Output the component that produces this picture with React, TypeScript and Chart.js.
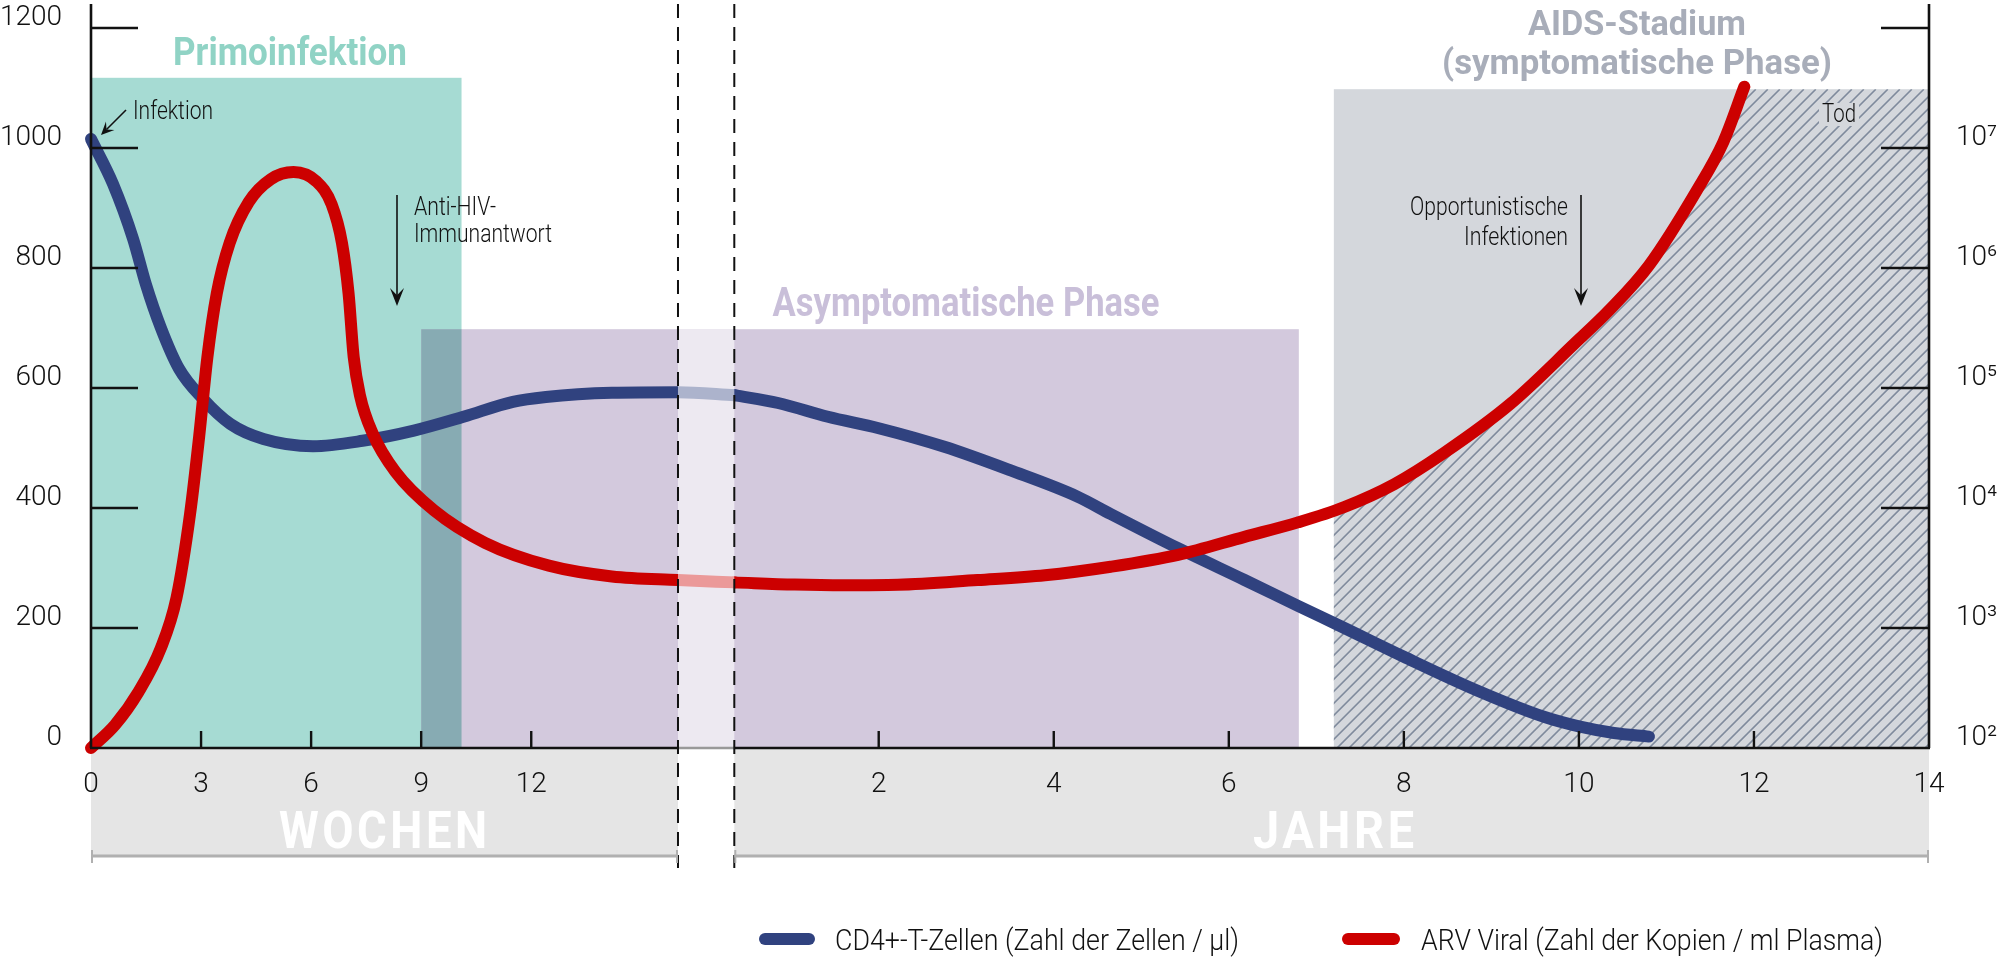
import React, { useEffect, useRef } from 'react';
import { Chart, registerables } from 'chart.js';

Chart.register(...registerables);

// ---------- data ----------
const WEEK_TICKS = [0, 3, 6, 9, 12];
const YEAR_TICKS = [2, 4, 6, 8, 10, 12, 14];
const CD4_TICKS = [0, 200, 400, 600, 800, 1000, 1200];
const VIRAL_TICKS = [1e2, 1e3, 1e4, 1e5, 1e6, 1e7, 1e8];
const VIRAL_TICK_LABELS = ['10²', '10³', '10⁴', '10⁵', '10⁶', '10⁷', ''];

const CD4_WEEKS = [0, 0.6, 1.15, 1.5, 1.9, 2.4, 3.05, 3.8, 4.7, 6.05, 7.4, 8.8, 10.15, 11.5, 12.4, 14.2, 16, 17.55];
const CD4_WEEK_VALUES = [1015, 940, 848, 772, 701, 632, 582, 540, 515, 503, 512, 529, 552, 577, 585, 592, 593, 588];
const CD4_YEARS = [0.35, 0.85, 1.42, 2.0, 2.75, 3.5, 4.27, 4.65, 5.42, 6.18, 6.79, 7.32, 8.0, 8.85, 9.6, 10.0, 10.4, 10.8];
const CD4_YEAR_VALUES = [588, 575, 552, 533, 502, 463, 419, 390, 333, 280, 237, 200, 152, 95, 52, 36, 25, 19];

const VIRAL_WEEKS = [0, 0.65, 1.3, 1.9, 2.33, 2.7, 2.95, 3.17, 3.43, 3.78, 4.3, 4.9, 5.52, 6.15, 6.56, 6.84, 7.02, 7.16, 7.33, 7.68, 8.3, 9.35, 10.74, 12.48, 14.2, 16, 17.55];
const VIRAL_WEEK_VALUES = [100, 155, 295, 676, 1780, 8910, 39800, 178000, 617000, 1620000, 3550000, 5500000, 6310000, 5250000, 3390000, 1620000, 617000, 182000, 87100, 41700, 20000, 9550, 5130, 3310, 2690, 2510, 2400];
const VIRAL_YEARS = [0.35, 1.04, 1.61, 2.22, 3.13, 3.9, 4.65, 5.42, 6.18, 6.79, 7.32, 7.89, 8.46, 9.22, 9.95, 10.35, 10.8, 11.35, 11.65, 11.89];
const VIRAL_YEAR_VALUES = [2400, 2300, 2270, 2290, 2510, 2750, 3240, 4070, 5750, 7590, 10200, 15800, 28800, 74100, 234000, 447000, 1050000, 4470000, 11200000, 32400000];

const SERIES_LABELS = ['CD4+-T-Zellen (Zahl der Zellen / µl)', 'ARV Viral (Zahl der Kopien / ml Plasma)'];

const AXIS_BREAK_WEEK = 16;
const AXIS_BREAK_YEAR = 0.35;
const PRIMO_WEEKS = [0, 10.1];
const PRIMO_TOP = 1117;
const ASYMP_START_WEEK = 9;
const ASYMP_END_YEAR = 6.8;
const ASYMP_TOP = 698;
const AIDS_YEARS = [7.2, 14];
const AIDS_TOP = 1098;

// ---------- style ----------
const BLUE = '#30427f';
const RED = '#cc0000';
const TEAL = '#a6dbd3';
const PURPLE = '#d3c9dd';
const OVERLAP = '#87abb3';
const AIDS_GRAY = '#d4d7dc';
const HATCH = '#7f8a9c';
const BAND = '#e5e5e5';
const INK = '#111111';
const FAMILY = 'Roboto, "Noto Sans", sans-serif';
const light = (s: number) => `300 ${s}px ${FAMILY}`;
const bold = (s: number) => `700 ${s}px ${FAMILY}`;

function fitText(ctx: CanvasRenderingContext2D, text: string, x: number, y: number, font: string, color: string, width: number, align: CanvasTextAlign = 'left', spacing = 0) {
  ctx.save();
  ctx.font = font;
  (ctx as any).letterSpacing = spacing + 'px';
  ctx.fillStyle = color;
  ctx.textAlign = align;
  ctx.textBaseline = 'alphabetic';
  const w = ctx.measureText(text).width - spacing;
  const sx = width > 0 && w > 0 ? width / w : 1;
  ctx.translate(x, y);
  ctx.scale(sx, 1);
  ctx.fillText(text, 0, 0);
  ctx.restore();
}

function arrow(ctx: CanvasRenderingContext2D, x1: number, y1: number, x2: number, y2: number, head = 16, hw = 7) {
  const a = Math.atan2(y2 - y1, x2 - x1);
  ctx.save();
  ctx.strokeStyle = INK;
  ctx.fillStyle = INK;
  ctx.lineWidth = 1.6;
  ctx.beginPath();
  ctx.moveTo(x1, y1);
  ctx.lineTo(x2 - Math.cos(a) * head * 0.6, y2 - Math.sin(a) * head * 0.6);
  ctx.stroke();
  ctx.beginPath();
  ctx.moveTo(x2, y2);
  ctx.lineTo(x2 - Math.cos(a) * head + Math.sin(a) * hw, y2 - Math.sin(a) * head - Math.cos(a) * hw);
  ctx.lineTo(x2 - Math.cos(a) * head * 0.6, y2 - Math.sin(a) * head * 0.6);
  ctx.lineTo(x2 - Math.cos(a) * head - Math.sin(a) * hw, y2 - Math.sin(a) * head + Math.cos(a) * hw);
  ctx.closePath();
  ctx.fill();
  ctx.restore();
}

const noPad = (s: any) => {
  s.paddingTop = 0;
  s.paddingBottom = 0;
  s.paddingLeft = 0;
  s.paddingRight = 0;
};

const phasePlugin = {
  id: 'phases',
  beforeDraw(chart: any) {
    const ctx: CanvasRenderingContext2D = chart.ctx;
    const { xw, xy, y } = chart.scales;
    const area = chart.chartArea;
    const base = area.bottom;
    const gapL = xw.getPixelForValue(AXIS_BREAK_WEEK);
    const gapR = xy.getPixelForValue(AXIS_BREAK_YEAR);
    ctx.save();
    ctx.fillStyle = '#ffffff';
    ctx.fillRect(0, 0, chart.width, chart.height);
    ctx.fillStyle = BAND;
    ctx.fillRect(area.left, base, gapL - area.left, 107);
    ctx.fillRect(gapR, base, area.right - gapR, 107);
    const tL = xw.getPixelForValue(PRIMO_WEEKS[0]);
    const tR = xw.getPixelForValue(PRIMO_WEEKS[1]);
    const tT = y.getPixelForValue(PRIMO_TOP);
    ctx.fillStyle = TEAL;
    ctx.fillRect(tL, tT, tR - tL, base - tT);
    const pL = xw.getPixelForValue(ASYMP_START_WEEK);
    const pR = xy.getPixelForValue(ASYMP_END_YEAR);
    const pT = y.getPixelForValue(ASYMP_TOP);
    ctx.fillStyle = PURPLE;
    ctx.fillRect(pL, pT, pR - pL, base - pT);
    ctx.fillStyle = OVERLAP;
    ctx.fillRect(pL, pT, tR - pL, base - pT);
    const aL = xy.getPixelForValue(AIDS_YEARS[0]);
    const aR = xy.getPixelForValue(AIDS_YEARS[1]);
    const aT = y.getPixelForValue(AIDS_TOP);
    ctx.fillStyle = AIDS_GRAY;
    ctx.fillRect(aL, aT, aR - aL, base - aT);
    // hatch below the viral curve
    ctx.save();
    ctx.beginPath();
    ctx.rect(aL, aT, aR - aL, base - aT);
    ctx.clip();
    const meta = chart.getDatasetMeta(1);
    const pts = meta.data;
    ctx.beginPath();
    let ok = false;
    try {
      if (meta.dataset && meta.dataset.path) {
        meta.dataset.updateControlPoints(area, 'x');
        meta.dataset.path(ctx);
        ok = true;
      }
    } catch (e) { ok = false; }
    if (!ok) {
      ctx.moveTo(pts[0].x, pts[0].y);
      for (let i = 1; i < pts.length; i++) ctx.lineTo(pts[i].x, pts[i].y);
    }
    const last = pts[pts.length - 1];
    ctx.lineTo(aR + 10, last.y);
    ctx.lineTo(aR + 10, base + 10);
    ctx.lineTo(pts[0].x, base + 10);
    ctx.closePath();
    ctx.clip();
    ctx.strokeStyle = HATCH;
    ctx.lineWidth = 1.6;
    const h = base - aT;
    ctx.beginPath();
    for (let k = aL - h; k < aR + 20; k += 12) {
      ctx.moveTo(k, base + 2);
      ctx.lineTo(k + h + 2, aT);
    }
    ctx.stroke();
    ctx.restore();
    ctx.restore();
  },
  afterDatasetsDraw(chart: any) {
    const ctx: CanvasRenderingContext2D = chart.ctx;
    const { xw, xy, y, y2 } = chart.scales;
    const area = chart.chartArea;
    const base = area.bottom;
    const gapL = xw.getPixelForValue(AXIS_BREAK_WEEK);
    const gapR = xy.getPixelForValue(AXIS_BREAK_YEAR);
    ctx.save();
    const pT = y.getPixelForValue(ASYMP_TOP);
    ctx.fillStyle = 'rgba(255,255,255,0.6)';
    ctx.fillRect(gapL, pT, gapR - gapL, base - pT);
    ctx.strokeStyle = INK;
    ctx.lineWidth = 2.6;
    ctx.beginPath();
    ctx.moveTo(area.left, area.top);
    ctx.lineTo(area.left, base);
    ctx.moveTo(area.right, area.top);
    ctx.lineTo(area.right, base);
    ctx.moveTo(area.left - 1, base);
    ctx.lineTo(gapL, base);
    ctx.moveTo(gapR, base);
    ctx.lineTo(area.right + 1, base);
    ctx.stroke();
    ctx.strokeStyle = '#999999';
    ctx.beginPath();
    ctx.moveTo(gapL, base);
    ctx.lineTo(gapR, base);
    ctx.stroke();
    ctx.strokeStyle = INK;
    ctx.lineWidth = 2.4;
    ctx.beginPath();
    y.ticks.forEach((t: any) => {
      if (t.value === 0) return;
      const py = y.getPixelForValue(t.value);
      ctx.moveTo(area.left, py);
      ctx.lineTo(area.left + 47, py);
    });
    y2.ticks.forEach((t: any) => {
      if (t.value <= 100) return;
      const py = y2.getPixelForValue(t.value);
      ctx.moveTo(area.right, py);
      ctx.lineTo(area.right - 48, py);
    });
    xw.ticks.forEach((t: any) => {
      if (t.value === 0) return;
      const px = xw.getPixelForValue(t.value);
      ctx.moveTo(px, base);
      ctx.lineTo(px, base - 17);
    });
    xy.ticks.forEach((t: any) => {
      if (t.value >= 14) return;
      const px = xy.getPixelForValue(t.value);
      ctx.moveTo(px, base);
      ctx.lineTo(px, base - 17);
    });
    ctx.stroke();
    ctx.lineWidth = 2;
    ctx.setLineDash([14, 9]);
    ctx.beginPath();
    ctx.moveTo(gapL, area.top);
    ctx.lineTo(gapL, base + 120);
    ctx.moveTo(gapR, area.top);
    ctx.lineTo(gapR, base + 120);
    ctx.stroke();
    ctx.setLineDash([]);
    ctx.strokeStyle = '#b0b0b0';
    ctx.lineWidth = 3;
    const by = base + 108;
    ctx.beginPath();
    ctx.moveTo(area.left, by);
    ctx.lineTo(gapL, by);
    ctx.moveTo(gapR, by);
    ctx.lineTo(area.right, by);
    ctx.stroke();
    ctx.lineWidth = 2;
    ctx.beginPath();
    [area.left + 1, gapL - 1, gapR + 1, area.right - 1].forEach((x) => {
      ctx.moveTo(x, by - 6);
      ctx.lineTo(x, by + 7);
    });
    ctx.stroke();
    ctx.restore();
  },
  afterDraw(chart: any) {
    const ctx: CanvasRenderingContext2D = chart.ctx;
    const base = chart.chartArea.bottom;
    fitText(ctx, 'WOCHEN', 279, base + 100, bold(52), '#ffffff', 208, 'left', 4);
    fitText(ctx, 'JAHRE', 1253, base + 100, bold(52), '#ffffff', 161, 'left', 4);
    fitText(ctx, 'Primoinfektion', 290, 65, bold(39), '#90d3c5', 234, 'center');
    fitText(ctx, 'Asymptomatische Phase', 966, 316, bold(40), '#c9bfd9', 387, 'center');
    fitText(ctx, 'AIDS-Stadium', 1637, 35, bold(35), '#a8adb9', 218, 'center');
    fitText(ctx, '(symptomatische Phase)', 1637, 74, bold(35), '#a8adb9', 390, 'center');
    fitText(ctx, 'Infektion', 133, 119, light(25), INK, 80, 'left');
    arrow(ctx, 126, 110, 101, 135, 13, 6);
    fitText(ctx, 'Anti-HIV-', 414, 215, light(25), INK, 82, 'left');
    fitText(ctx, 'Immunantwort', 414, 242, light(25), INK, 138, 'left');
    arrow(ctx, 397, 195, 397, 306, 18, 7);
    fitText(ctx, 'Opportunistische', 1568, 215, light(25), INK, 158, 'right');
    fitText(ctx, 'Infektionen', 1568, 245, light(25), INK, 104, 'right');
    arrow(ctx, 1581, 195, 1581, 306, 18, 7);
    ctx.save();
    ctx.fillStyle = AIDS_GRAY;
    ctx.fillRect(1819, 103, 40, 23);
    ctx.restore();
    fitText(ctx, 'Tod', 1822, 122, light(25), INK, 34, 'left');
    const ly = 939;
    ctx.save();
    ctx.lineCap = 'round';
    ctx.lineWidth = 12;
    ctx.strokeStyle = BLUE;
    ctx.beginPath();
    ctx.moveTo(765, ly);
    ctx.lineTo(809, ly);
    ctx.stroke();
    ctx.strokeStyle = RED;
    ctx.beginPath();
    ctx.moveTo(1348, ly);
    ctx.lineTo(1394, ly);
    ctx.stroke();
    ctx.restore();
    fitText(ctx, SERIES_LABELS[0], 835, 950, light(29), INK, 404, 'left');
    fitText(ctx, SERIES_LABELS[1], 1421, 950, light(29), INK, 462, 'left');
  },
};

const tickFont = { family: FAMILY, size: 28, weight: '300' as any };

export default function App() {
  const ref = useRef<HTMLCanvasElement>(null);
  useEffect(() => {
    if (!ref.current) return;
    const lineStyle = {
      borderWidth: 12,
      pointRadius: 0,
      pointHoverRadius: 0,
      cubicInterpolationMode: 'monotone' as const,
      borderCapStyle: 'round' as const,
      borderJoinStyle: 'round' as const,
      fill: false,
      clip: 12,
    };
    const chart = new Chart(ref.current, {
      type: 'line',
      data: {
        datasets: [
          { ...lineStyle, label: SERIES_LABELS[1], borderColor: RED, xAxisID: 'xw', yAxisID: 'y2', order: 0,
            data: VIRAL_WEEKS.map((w, i) => ({ x: w, y: VIRAL_WEEK_VALUES[i] })) },
          { ...lineStyle, label: SERIES_LABELS[1], borderColor: RED, xAxisID: 'xy', yAxisID: 'y2', order: 0,
            data: VIRAL_YEARS.map((t, i) => ({ x: t, y: VIRAL_YEAR_VALUES[i] })) },
          { ...lineStyle, label: SERIES_LABELS[0], borderColor: BLUE, xAxisID: 'xw', yAxisID: 'y', order: 1,
            data: CD4_WEEKS.map((w, i) => ({ x: w, y: CD4_WEEK_VALUES[i] })) },
          { ...lineStyle, label: SERIES_LABELS[0], borderColor: BLUE, xAxisID: 'xy', yAxisID: 'y', order: 1,
            data: CD4_YEARS.map((t, i) => ({ x: t, y: CD4_YEAR_VALUES[i] })) },
        ],
      },
      options: {
        animation: false,
        responsive: true,
        maintainAspectRatio: false,
        layout: { padding: { top: 4, left: 0, right: 0, bottom: 0 } },
        plugins: { legend: { display: false }, tooltip: { enabled: false } },
        events: [],
        scales: {
          xw: {
            type: 'linear', position: 'bottom', min: 0, max: 50.1,
            grid: { display: false, drawTicks: false }, border: { display: false },
            afterBuildTicks: (s: any) => { s.ticks = WEEK_TICKS.map((v) => ({ value: v })); },
            afterFit: (s: any) => { s.height = 210; noPad(s); },
            ticks: { autoSkip: false, maxRotation: 0, padding: 20, color: INK, font: tickFont,
              callback: (v: any) => String(v) },
          },
          xy: {
            type: 'linear', position: { y: 0 } as any, min: -7, max: 14,
            grid: { display: false, drawTicks: false }, border: { display: false },
            afterBuildTicks: (s: any) => { s.ticks = YEAR_TICKS.map((v) => ({ value: v })); },
            afterFit: (s: any) => { noPad(s); },
            ticks: { autoSkip: false, maxRotation: 0, padding: 20, color: INK, font: tickFont,
              callback: (v: any) => String(v) },
          },
          y: {
            type: 'linear', position: 'left', min: 0, max: 1240,
            grid: { display: false, drawTicks: false }, border: { display: false },
            afterBuildTicks: (s: any) => { s.ticks = CD4_TICKS.map((v) => ({ value: v })); },
            afterFit: (s: any) => { s.width = 91; noPad(s); },
            ticks: { autoSkip: false, padding: 29, labelOffset: -10, color: INK, font: tickFont,
              callback: (v: any) => String(v) },
          },
          y2: {
            type: 'logarithmic', position: 'right', min: 100, max: 158489319,
            grid: { display: false, drawTicks: false }, border: { display: false },
            afterBuildTicks: (s: any) => { s.ticks = VIRAL_TICKS.map((v) => ({ value: v })); },
            afterFit: (s: any) => { s.width = 72; noPad(s); },
            ticks: { autoSkip: false, padding: 27, labelOffset: -10, color: INK, font: tickFont,
              callback: (_v: any, i: number) => VIRAL_TICK_LABELS[i] },
          },
        },
      } as any,
      plugins: [phasePlugin],
    });
    return () => chart.destroy();
  }, []);
  return (
    <div style={{ position: 'fixed', left: 0, top: 0, width: '100vw', height: '100vh', background: '#fff' }}>
      <canvas ref={ref} />
    </div>
  );
}
